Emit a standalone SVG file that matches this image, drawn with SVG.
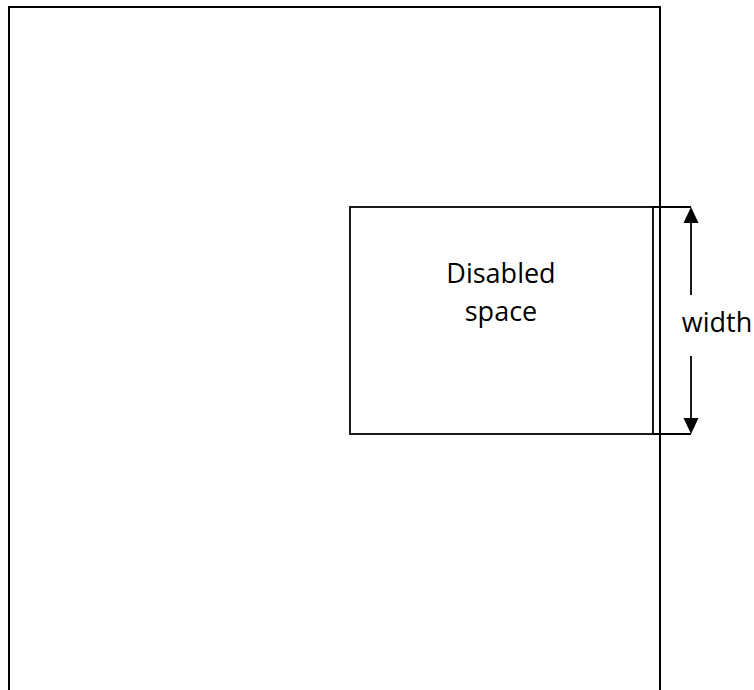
<svg xmlns="http://www.w3.org/2000/svg" width="754" height="690" viewBox="0 0 754 690">
<style>
.o{fill:none;stroke:#000;stroke-width:2}
.r{fill:none;stroke:#000;stroke-width:1.8}
.l{stroke:#000;stroke-width:1.8;fill:none}
.t{font-family:"Open Sans","Liberation Sans",sans-serif;font-size:27px;fill:#000}
.h{fill:#000}
</style>
<rect width="754" height="690" fill="#fff"/>
<g id="room">
<path class="o" d="M9,700 V7 H660 V700"/>
</g>
<g id="disabled-space">
<rect class="r" x="350" y="207" width="303" height="227"/>
<text class="t" x="501" y="283" text-anchor="middle">Disabled</text>
<text class="t" x="501" y="321" text-anchor="middle">space</text>
</g>
<g id="connectors">
<path class="l" d="M653,207 H691 M653,434 H691"/>
<path class="l" d="M691,222 V295 M691,356 V419"/>
<polygon class="h" points="691,207 683.5,223 698.5,223"/>
<polygon class="h" points="691,434 683.5,418 698.5,418"/>
</g>
<g id="label">
<text class="t" x="717" y="332" text-anchor="middle">width</text>
</g>
</svg>
